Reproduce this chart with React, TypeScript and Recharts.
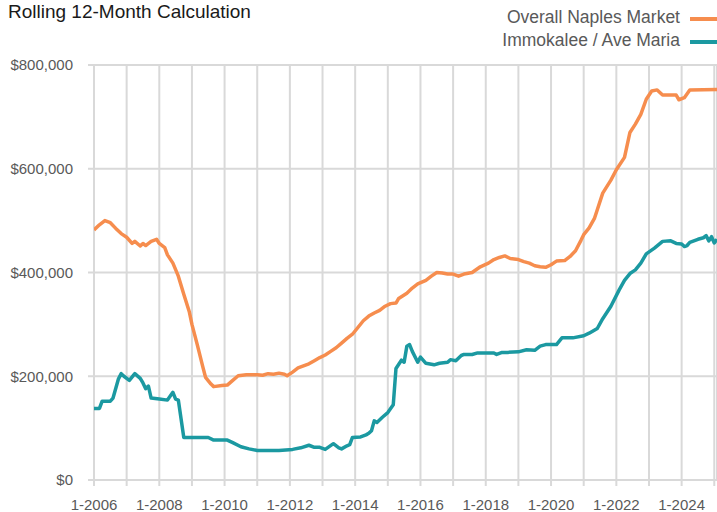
import React from "react";
import { CartesianGrid, Line, LineChart, XAxis, YAxis } from "recharts";

// months counted from Jan 2006 (0 = 1-2006)
const naplesMonths = [
  0, 2, 4, 6, 8, 10, 12, 14, 15, 17, 18, 19, 21, 23, 24, 26, 27, 29, 31, 33,
  35, 36, 38, 40, 41, 43, 44, 47, 49, 51, 53, 56, 60, 62, 64, 66, 68, 70, 71, 73,
  75, 77, 79, 81, 83, 85, 87, 89, 91, 93, 95, 97, 99, 101, 103, 105, 107, 109, 111, 112,
  115, 117, 119, 122, 124, 126, 128, 130, 132, 134, 136, 139, 142, 145, 147, 149, 151, 153, 156, 158,
  160, 162, 164, 166, 168, 170, 173, 175, 177, 179, 180, 182, 184, 185, 187, 190, 192, 195, 197, 199,
  201, 203, 205, 207, 209, 212, 214, 215, 217, 219, 229,
];
const naplesPrices = [
  482000, 492000, 500000, 496000, 485000, 475000, 468000, 456000, 460000, 451000, 456000, 452000, 460000, 464000, 456000, 448000, 434000, 418000, 393000, 358000,
  325000, 300000, 260000, 218000, 198000, 185000, 180000, 182000, 183000, 192000, 201000, 203000, 203000, 202000, 205000, 204000, 206000, 204000, 201000, 208000,
  216000, 220000, 224000, 230000, 236000, 241000, 248000, 255000, 264000, 273000, 281000, 294000, 307000, 316000, 322000, 327000, 335000, 340000, 341000, 350000,
  360000, 370000, 378000, 385000, 393000, 400000, 399000, 397000, 397000, 393000, 397000, 400000, 411000, 418000, 425000, 429000, 432000, 427000, 425000, 421000,
  418000, 413000, 411000, 410000, 415000, 422000, 423000, 431000, 442000, 462000, 473000, 486000, 505000, 521000, 553000, 578000, 598000, 622000, 670000, 686000,
  705000, 734000, 750000, 752000, 742000, 742000, 742000, 733000, 737000, 752000, 753000,
];

const immokaleeMonths = [
  0, 2, 3, 6, 7, 9, 10, 11, 13, 15, 17, 18, 19, 20, 21, 24, 27, 29, 30, 31,
  33, 42, 44, 49, 51, 54, 57, 60, 68, 73, 76, 79, 81, 83, 85, 88, 90, 91, 93, 94,
  95, 98, 100, 101, 102, 103, 104, 106, 108, 110, 111, 113, 114, 115, 116, 117, 119, 120, 122, 125,
  127, 130, 131, 133, 135, 136, 139, 141, 147, 148, 150, 152, 156, 159, 162, 164, 166, 170, 172, 176,
  180, 182, 185, 187, 190, 193, 195, 197, 199, 201, 203, 206, 209, 212, 214, 216, 217, 218, 219, 222,
  224, 225, 226, 227, 228, 229,
];
const immokaleePrices = [
  138000, 138000, 152000, 152000, 158000, 195000, 205000, 200000, 192000, 205000, 196000, 187000, 176000, 181000, 158000, 156000, 154000, 169000, 156000, 154000,
  82000, 82000, 77000, 77000, 72000, 64000, 60000, 57000, 57000, 59000, 62000, 67000, 63000, 63000, 59000, 70000, 62000, 60000, 66000, 68000,
  82000, 83000, 87000, 90000, 95000, 114000, 111000, 121000, 130000, 145000, 215000, 231000, 227000, 258000, 261000, 248000, 227000, 237000, 225000, 222000,
  225000, 227000, 232000, 230000, 240000, 242000, 242000, 245000, 245000, 242000, 246000, 246000, 247000, 251000, 250000, 258000, 261000, 261000, 274000, 274000,
  278000, 283000, 292000, 311000, 335000, 366000, 385000, 398000, 405000, 418000, 436000, 447000, 460000, 461000, 456000, 455000, 450000, 452000, 458000, 464000,
  467000, 471000, 461000, 469000, 457000, 464000,
];

const yearTicks = [0, 12, 24, 36, 48, 60, 72, 84, 96, 108, 120, 132, 144, 156, 168, 180, 192, 204, 216, 228];
const priceTicks = [0, 200000, 400000, 600000, 800000];

const seriesNames = ["Overall Naples Market", "Immokalee / Ave Maria"];
const seriesColors = ["#f68d4e", "#1b99a1"];

const naplesData = naplesMonths.map((m, i) => ({ m, price: naplesPrices[i] }));
const immokaleeData = immokaleeMonths.map((m, i) => ({ m, price: immokaleePrices[i] }));

const FONT = "'Liberation Sans', Arial, sans-serif";
const GRID = "#d9d9d9";

const monthLabel = (m: number) => {
  const year = 2006 + Math.round(m / 12);
  return year % 2 === 0 ? `1-${year}` : "";
};

const money = (v: number) => "$" + v.toLocaleString("en-US");

export default function App() {
  return (
    <div
      style={{
        position: "absolute",
        left: 0,
        top: 0,
        width: 717,
        height: 512,
        background: "#fff",
        fontFamily: FONT,
        overflow: "hidden",
      }}
    >
      <div
        style={{
          position: "absolute",
          left: 8,
          top: 1,
          fontSize: 19,
          lineHeight: "22px",
          color: "#1a1a1a",
          whiteSpace: "nowrap",
        }}
      >
        Rolling 12-Month Calculation
      </div>

      <div style={{ position: "absolute", right: 0, top: 6 }}>
        {seriesNames.map((name, i) => (
          <div
            key={name}
            style={{
              display: "flex",
              alignItems: "center",
              justifyContent: "flex-end",
              height: 23,
              fontSize: 17.5,
              lineHeight: "23px",
              color: "#595959",
              whiteSpace: "nowrap",
            }}
          >
            <span>{name}</span>
            <span
              style={{
                display: "inline-block",
                width: 27,
                height: 3.5,
                marginLeft: 10,
                marginTop: 3,
                background: seriesColors[i],
              }}
            />
          </div>
        ))}
      </div>

      <LineChart
        width={717}
        height={512}
        margin={{ top: 65, right: 0, left: 8, bottom: 0 }}
        style={{ position: "absolute", left: 0, top: 0 }}
      >
        <CartesianGrid stroke={GRID} strokeWidth={2} />
        <XAxis
          type="number"
          dataKey="m"
          domain={[0, 229]}
          ticks={yearTicks}
          tickFormatter={monthLabel}
          allowDataOverflow
          height={32}
          axisLine={false}
          tickLine={{ stroke: GRID, strokeWidth: 2 }}
          tickSize={6}
          tickMargin={13}
          tick={{ fill: "#595959", fontSize: 15, fontFamily: FONT }}
          interval={0}
        />
        <YAxis
          type="number"
          domain={[0, 800000]}
          ticks={priceTicks}
          tickFormatter={money}
          width={86}
          axisLine={false}
          tickLine={{ stroke: GRID, strokeWidth: 2 }}
          tickSize={6}
          tickMargin={15}
          tick={{ fill: "#595959", fontSize: 15, fontFamily: FONT }}
        />
        <Line
          data={naplesData}
          dataKey="price"
          name={seriesNames[0]}
          type="linear"
          stroke={seriesColors[0]}
          strokeWidth={3.5}
          strokeLinejoin="round"
          dot={false}
          isAnimationActive={false}
        />
        <Line
          data={immokaleeData}
          dataKey="price"
          name={seriesNames[1]}
          type="linear"
          stroke={seriesColors[1]}
          strokeWidth={3.5}
          strokeLinejoin="round"
          dot={false}
          isAnimationActive={false}
        />
      </LineChart>
    </div>
  );
}
